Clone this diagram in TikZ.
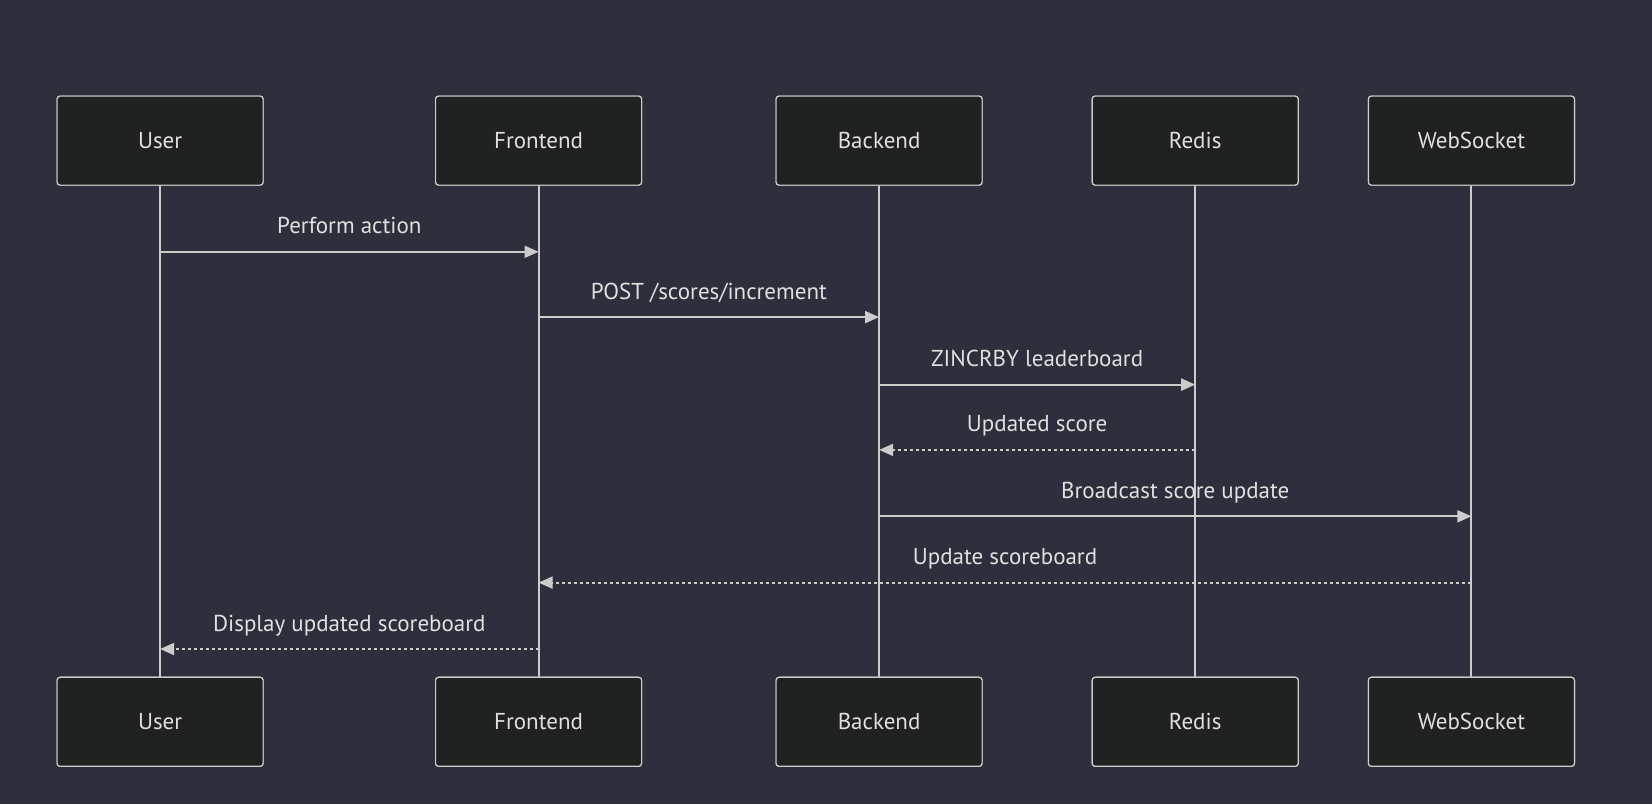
\documentclass[tikz,border=0pt]{standalone}
\usepackage{fontspec}
\setmainfont{PT Sans}
\usetikzlibrary{arrows.meta,positioning}
\definecolor{bgdark}{RGB}{45,48,60}
\definecolor{actorfill}{RGB}{32,33,33}
\definecolor{linegray}{RGB}{204,204,204}
\definecolor{textgray}{RGB}{224,224,224}
\tikzset{
  actor/.style={draw=linegray, fill=actorfill, rounded corners=3pt, line width=1.2pt,
                minimum width=206pt, minimum height=89pt, text=textgray,
                font=\fontsize{23}{27}\selectfont},
  lifeline/.style={draw=linegray, line width=2pt},
  msg/.style={draw=linegray, line width=2pt, -{Triangle[length=14pt,width=12pt,fill=linegray]}},
  reply/.style={msg, dash pattern=on 3pt off 3pt},
  msglabel/.style={text=textgray, anchor=base, yshift=18pt, font=\fontsize{23}{27}\selectfont}
}
\begin{document}
\begin{tikzpicture}[x=1pt, y=-1pt]
  % background
  \fill[bgdark] (0,0) rectangle (1652,804);
  \useasboundingbox (0,0) rectangle (1652,804);
  % actors on top
  \node[actor] (user) at (160.1,140.6) {User};
  \node[actor, right=171.3pt of user] (frontend) {Frontend};
  \node[actor, right=133.3pt of frontend] (backend) {Backend};
  \node[actor, right=108.9pt of backend] (redis) {Redis};
  \node[actor, right=69pt of redis] (websocket) {WebSocket};
  % actors at the bottom
  \node[actor, below=491pt of user] (userB) {User};
  \node[actor, below=491pt of frontend] (frontendB) {Frontend};
  \node[actor, below=491pt of backend] (backendB) {Backend};
  \node[actor, below=491pt of redis] (redisB) {Redis};
  \node[actor, below=491pt of websocket] (websocketB) {WebSocket};
  % lifelines
  \draw[lifeline] (user) -- (userB);
  \draw[lifeline] (frontend) -- (frontendB);
  \draw[lifeline] (backend) -- (backendB);
  \draw[lifeline] (redis) -- (redisB);
  \draw[lifeline] (websocket) -- (websocketB);
  % redraw boxes over the lifelines
  \foreach \a/\t in {user/User, frontend/Frontend, backend/Backend, redis/Redis, websocket/WebSocket}{
    \node[actor] at (\a) {\t};
    \node[actor] at (\a B) {\t};
  }
  % messages
  \draw[msg] (user |- 0,251.8) -- node[msglabel] {Perform action}
        (frontend |- 0,251.8);
  \draw[msg] (frontend |- 0,317.1) -- node[msglabel] {POST /scores/increment}
        (backend |- 0,317.1);
  \draw[msg] (backend |- 0,384.6) -- node[msglabel] {ZINCRBY leaderboard}
        (redis |- 0,384.6);
  \draw[reply] (redis |- 0,449.9) -- node[msglabel] {Updated score}
        (backend |- 0,449.9);
  \draw[msg] (backend |- 0,516.3) -- node[msglabel] {Broadcast score update}
        (websocket |- 0,516.3);
  \draw[reply] (websocket |- 0,582.6) -- node[msglabel] {Update scoreboard}
        (frontend |- 0,582.6);
  \draw[reply] (frontend |- 0,649.0) -- node[msglabel] {Display updated scoreboard}
        (user |- 0,649.0);
\end{tikzpicture}
\end{document}
